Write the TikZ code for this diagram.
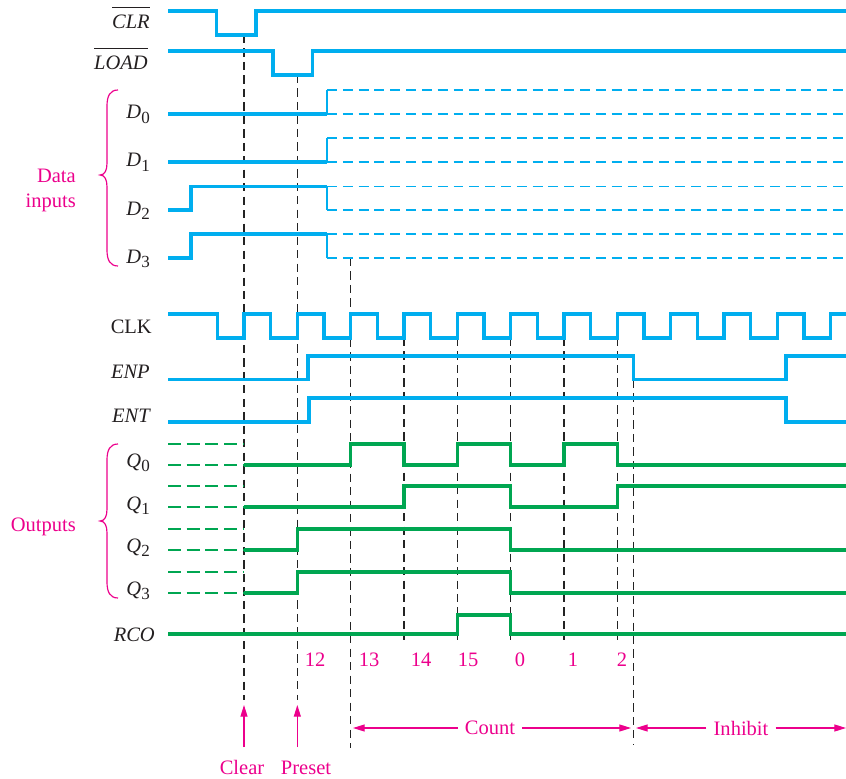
\documentclass[tikz,border=0pt]{standalone}
\usepackage{fontspec}
\setmainfont{Liberation Serif}
\usetikzlibrary{arrows.meta}
\definecolor{sigblue}{RGB}{0,174,239}
\definecolor{siggreen}{RGB}{0,166,81}
\definecolor{mag}{RGB}{236,0,140}
\definecolor{txt}{RGB}{35,31,32}
\definecolor{guidec}{RGB}{35,35,35}
\newcommand\ovlbar[1]{\leavevmode\vbox{\hrule height 0.6pt\kern 7pt\hbox{#1}}}
\newcommand\subsig[2]{\textit{#1}\raisebox{-3.6pt}{\fontsize{14.5}{16}\selectfont #2}}
\tikzset{
  sig/.style={sigblue, line width=2.6pt},
  sigthin/.style={sigblue, line width=1.4pt},
  sigdash/.style={sigblue, line width=1.5pt, dash pattern=on 8.5pt off 5pt},
  qsig/.style={siggreen, line width=2.6pt},
  qdash/.style={siggreen, line width=1.2pt, dash pattern=on 11pt off 5pt},
  guide/.style={guidec, line width=1.2pt, dash pattern=on 7pt off 4.5pt},
  lbl/.style={text=txt, font=\fontsize{17.5}{20}\selectfont, inner sep=0pt, anchor=base east},
  mtxt/.style={text=mag, font=\fontsize{17.5}{20}\selectfont, inner sep=0pt},
  marrow/.style={mag, line width=1pt, -{Triangle[length=10pt,width=6pt]}},
  bracec/.style={mag, line width=1pt}
}
\begin{document}
\begin{tikzpicture}[x=0.3mm,y=-0.3mm, line join=miter]
\useasboundingbox (0,0) rectangle (846,779);

% ---------- labels ----------
\node[lbl] (lclr) at (150,29) {\ovlbar{\itshape CLR}};
\node[lbl] (lload) at (148,70) {\ovlbar{\itshape LOAD}};
\node[lbl] (ld0) at (150,119) {\subsig{D}{0}};
\node[lbl] (ld1) at (150,167) {\subsig{D}{1}};
\node[lbl] (ld2) at (150,215) {\subsig{D}{2}};
\node[lbl] (ld3) at (150,263) {\subsig{D}{3}};
\node[lbl] (lclk) at (152,333) {CLK};
\node[lbl] (lenp) at (150,378) {\itshape ENP};
\node[lbl] (lent) at (150,422) {\itshape ENT};
\node[lbl] (lq0) at (150,467) {\subsig{Q}{0}};
\node[lbl] (lq1) at (150,510) {\subsig{Q}{1}};
\node[lbl] (lq2) at (150,552) {\subsig{Q}{2}};
\node[lbl] (lq3) at (150,595) {\subsig{Q}{3}};
\node[lbl] (lrco) at (155,641) {\itshape RCO};

\node[mtxt, anchor=base east] (ldata) at (76,182) {Data};
\node[mtxt, anchor=base east] (ldata2) at (76,207) {inputs};
\node[mtxt, anchor=east] (lout) at (76,527) {Outputs};

% braces
\draw[bracec] (118,90) .. controls (110,90) and (107,96) .. (107,106) -- (107,163)
  .. controls (107,170) and (105,175) .. (100,175)
  .. controls (105,175) and (107,180) .. (107,187) -- (107,250)
  .. controls (107,260) and (110,266) .. (118,266);
\draw[bracec] (118,444) .. controls (110,444) and (107,450) .. (107,460) -- (107,509)
  .. controls (107,516) and (105,521) .. (100,521)
  .. controls (105,521) and (107,526) .. (107,533) -- (107,582)
  .. controls (107,592) and (110,598) .. (118,598);

% ---------- guide lines ----------
\draw[guide] (244,35) -- (244,700);
\draw[guide] (297.33,75) -- (297.33,700);
\draw[guide] (350.67,258) -- (350.67,748);
\foreach \gx in {404,457.33,510.67,564,617.33}
  \draw[guide] (\gx,338) -- (\gx,640);
\draw[guide] (633.5,380) -- (633.5,745);

% ---------- blue signals ----------
\draw[sig] (168,11) -- (216.5,11) -- (216.5,35) -- (256,35) -- (256,11) -- (846,11);
\draw[sig] (168,51) -- (273,51) -- (273,75) -- (312.5,75) -- (312.5,51) -- (846,51);

% D0, D1
\draw[sig] (168,114) -- (327,114);
\draw[sigthin] (327,114) -- (327,90);
\draw[sigdash] (327,90) -- (846,90);
\draw[sigdash] (327,114) -- (846,114);
\draw[sig] (168,162) -- (327,162);
\draw[sigthin] (327,162) -- (327,138);
\draw[sigdash] (327,138) -- (846,138);
\draw[sigdash] (327,162) -- (846,162);
% D2, D3
\draw[sig] (168,210) -- (191,210) -- (191,186.5) -- (327,186.5);
\draw[sigthin] (327,186.5) -- (327,210);
\draw[sigdash] (327,186.5) -- (846,186.5);
\draw[sigdash] (327,210) -- (846,210);
\draw[sig] (168,258) -- (191,258) -- (191,234) -- (327,234);
\draw[sigthin] (327,234) -- (327,258);
\draw[sigdash] (327,234) -- (846,234);
\draw[sigdash] (327,258) -- (846,258);

% CLK
\draw[sig] (168,314)
  \foreach \k in {0,...,11} {
    -- ({217.33+53.333*\k},314) -- ({217.33+53.333*\k},338)
    -- ({244+53.333*\k},338) -- ({244+53.333*\k},314)
  } -- (846,314);

% ENP, ENT
\draw[sig] (168,379.5) -- (308,379.5) -- (308,356) -- (633.5,356) -- (633.5,379.5)
  -- (786,379.5) -- (786,356) -- (846,356);
\draw[sig] (168,422) -- (309,422) -- (309,398) -- (786,398) -- (786,422) -- (846,422);

% ---------- green outputs ----------
\foreach \hy/\ly in {444/465, 486/507, 529/550, 572/593} {
  \draw[qdash] (168,\hy) -- (243,\hy);
  \draw[qdash] (168,\ly) -- (243,\ly);
}
\draw[qsig] (244,465) -- (350.67,465) -- (350.67,444) -- (404,444) -- (404,465)
  -- (457.33,465) -- (457.33,444) -- (510.67,444) -- (510.67,465) -- (564,465)
  -- (564,444) -- (617.33,444) -- (617.33,465) -- (846,465);
\draw[qsig] (244,507) -- (404,507) -- (404,486) -- (510.67,486) -- (510.67,507)
  -- (617.33,507) -- (617.33,486) -- (846,486);
\draw[qsig] (244,550) -- (297.33,550) -- (297.33,529) -- (510.67,529) -- (510.67,550) -- (846,550);
\draw[qsig] (244,593) -- (297.33,593) -- (297.33,572) -- (510.67,572) -- (510.67,593) -- (846,593);
\draw[qsig] (168,634) -- (457.33,634) -- (457.33,615) -- (510.67,615) -- (510.67,634) -- (846,634);

% ---------- count numbers ----------
\foreach \nx/\nt/\nn in {315/12/n12, 369/13/n13, 421/14/n14, 468/15/n15, 520/0/n0, 573/1/n1, 622/2/n2}
  \node[mtxt, anchor=base] (\nn) at (\nx,666) {\nt};

% ---------- Clear / Preset ----------
\node[mtxt, anchor=base] (clear) at (242,774) {Clear};
\node[mtxt, anchor=base] (preset) at (306,774) {Preset};
\coordinate (clrbot) at (244,747);
\coordinate (clrtip) at (244,705);
\coordinate (prebot) at (297.33,747);
\coordinate (pretip) at (297.33,705);
\draw[marrow] (clrbot) -- (clrtip);
\draw[marrow] (prebot) -- (pretip);

% ---------- Count / Inhibit ----------
\node[mtxt, inner xsep=6pt] (count) at (490,728) {Count};
\node[mtxt, inner xsep=6pt] (inhibit) at (741,728) {Inhibit};
\coordinate (cntl) at (353,728);
\coordinate (cntr) at (631,728);
\coordinate (inhl) at (636,728);
\coordinate (inhr) at (846,728);
\draw[marrow] (count.west |- cntl) -- (cntl);
\draw[marrow] (count.east |- cntr) -- (cntr);
\draw[marrow] (inhibit.west |- inhl) -- (inhl);
\draw[marrow] (inhibit.east |- inhr) -- (inhr);
\end{tikzpicture}
\end{document}
